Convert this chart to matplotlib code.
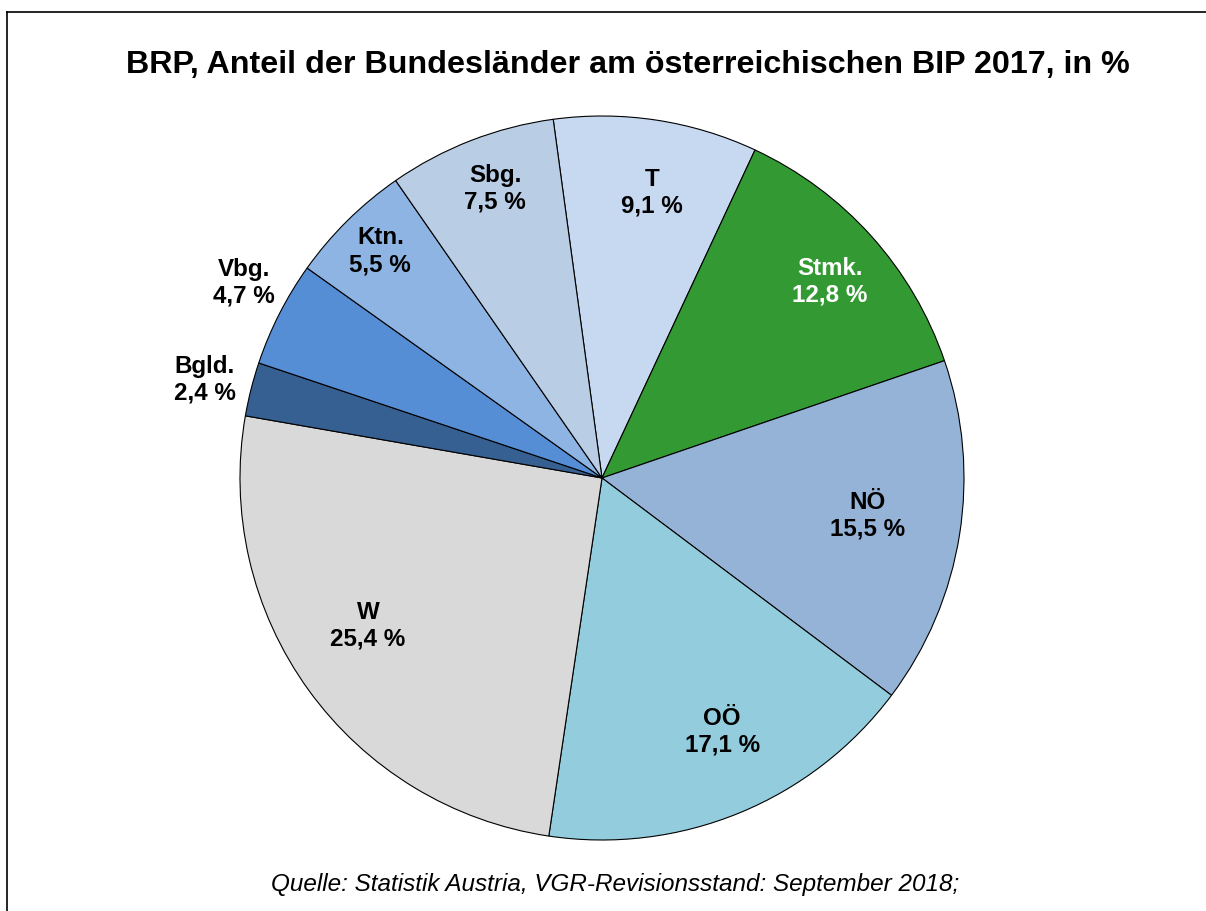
import numpy as np
import matplotlib
matplotlib.use("Agg")
import matplotlib.pyplot as plt
from matplotlib.lines import Line2D

plt.rcParams['font.family'] = ['Liberation Sans', 'DejaVu Sans']

# data, clockwise from the top
laender = ["T", "Stmk.", "NÖ", "OÖ", "W", "Bgld.", "Vbg.", "Ktn.", "Sbg."]
anteil = [9.1, 12.8, 15.5, 17.1, 25.4, 2.4, 4.7, 5.5, 7.5]
farben = ["#C6D9F1", "#339933", "#95B3D7", "#93CDDD", "#D9D9D9",
          "#376092", "#558ED5", "#8EB4E3", "#B9CDE5"]

# label placement: radius (fraction of pie radius), angle shift from the slice middle (deg), colour
lab_r = [0.80, 0.83, 0.74, 0.776, 0.765, 1.13, 1.127, 0.876, 0.851]
lab_da = [-1.3, -1.2, 0.8, 3.0, -3.5, 0.3, -1.6, -0.3, -1.0]
lab_col = ["black", "white", "black", "black", "black", "black", "black", "black", "black"]

W, H = 1206, 911
fig = plt.figure(figsize=(W / 100, H / 100), dpi=100)

cx, cy, R = 602, 478, 362
ax = fig.add_axes([(cx - R) / W, (H - cy - R) / H, 2 * R / W, 2 * R / H])

wedges, _ = ax.pie(anteil, colors=farben, startangle=97.75, counterclock=False,
                   wedgeprops=dict(edgecolor="black", linewidth=0.8))
ax.set_xlim(-1, 1)
ax.set_ylim(-1, 1)
ax.set_aspect("equal")
ax.axis("off")

for w, name, val, r, da, c in zip(wedges, laender, anteil, lab_r, lab_da, lab_col):
    mid = np.deg2rad((w.theta1 + w.theta2) / 2 + da)
    txt = name + "\n" + ("%.1f" % val).replace(".", ",") + " %"
    ax.text(r * np.cos(mid), r * np.sin(mid), txt, ha="center", va="center",
            fontsize=17.4, fontweight="bold", color=c, linespacing=1.2, clip_on=False)

fig.text(628 / W, 1 - 65 / H, "BRP, Anteil der Bundesländer am österreichischen BIP 2017, in %",
         ha="center", va="center", fontsize=23.2, fontweight="bold")
fig.text(615 / W, 1 - 884 / H, "Quelle: Statistik Austria, VGR-Revisionsstand: September 2018;",
         ha="center", va="center", fontsize=17.45, style="italic")

# frame (only left and top edges visible in the crop)
fig.add_artist(Line2D([7 / W, 7 / W], [0, 1 - 12 / H], color="black", linewidth=1.2,
                      transform=fig.transFigure))
fig.add_artist(Line2D([7 / W, 1], [1 - 12 / H, 1 - 12 / H], color="black", linewidth=1.2,
                      transform=fig.transFigure))

fig.savefig("out.png", dpi=100)
